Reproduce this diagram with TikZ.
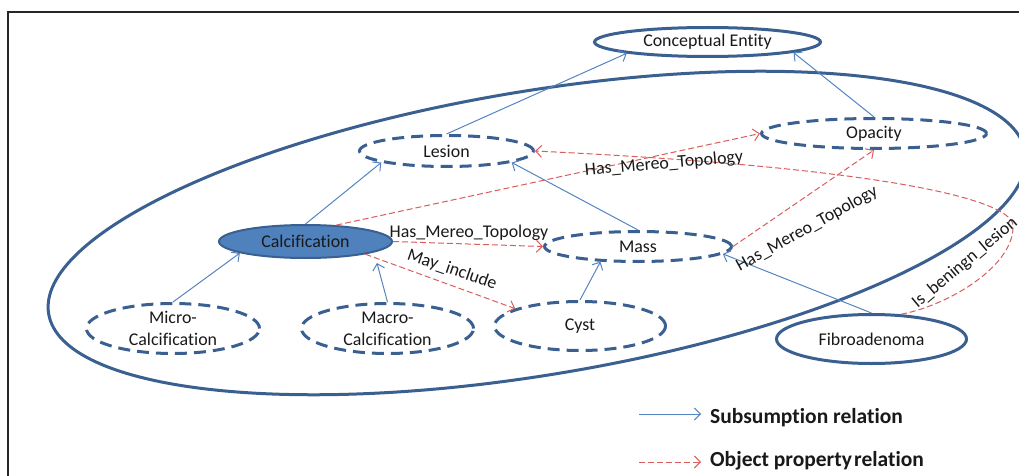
\documentclass[tikz,border=0pt]{standalone}
\usepackage{fontspec}
\setmainfont{Carlito}[Ligatures=NoCommon]
\usetikzlibrary{arrows.meta,shapes.geometric}
\definecolor{nodeblue}{RGB}{58,95,145}
\definecolor{fillblue}{RGB}{79,129,189}
\definecolor{subblue}{RGB}{84,132,192}
\definecolor{relred}{RGB}{218,92,92}
\definecolor{ink}{RGB}{25,25,25}
\begin{document}
\begin{tikzpicture}[x=1pt,y=-1pt,
  every node/.style={font=\fontsize{17.9}{22}\selectfont, text=ink},
  concept/.style={ellipse, draw=nodeblue, line width=3pt, inner sep=0pt, align=center},
  dashconcept/.style={concept, dash pattern=on 12pt off 7pt},
  subarrow/.style={draw=subblue, line width=1pt, -{Straight Barb[length=6pt,width=12pt]}},
  relarrow/.style={draw=relred, line width=1pt, dash pattern=on 6pt off 3pt, -{Straight Barb[length=6pt,width=12pt]}},
  rellabel/.style={inner sep=0pt},
  legendtext/.style={font=\fontsize{21.5}{24}\selectfont\bfseries, anchor=base west, inner sep=0pt}
]
\useasboundingbox (0,0) rectangle (1019,476);

% page frame
\draw[black!85, line width=2pt] (8,476) -- (8,12.5) -- (1019,12.5);

% enclosing domain ellipse
\draw[nodeblue, line width=3pt, rotate around={9.4:(537,233)}] (537,233) ellipse [x radius=495, y radius=142];

% concepts
\node[concept, minimum width=226pt, minimum height=29pt] (ce) at (707.5,42) {Conceptual Entity};
\node[dashconcept, minimum width=174pt, minimum height=31pt] (les) at (446.5,151) {Lesion};
\node[dashconcept, minimum width=225pt, minimum height=30pt] (opa) at (874,133.5) {Opacity};
\node[concept, fill=fillblue, line width=2pt, minimum width=173pt, minimum height=33pt] (calc) at (305.5,241.5) {Calcification};
\node[dashconcept, minimum width=187pt, minimum height=30pt] (mass) at (638,246.5) {Mass};
\node[dashconcept, minimum width=173pt, minimum height=50pt] (micro) at (173,328.5) {Micro-\\Calcification};
\node[dashconcept, minimum width=172pt, minimum height=50pt] (macro) at (387.5,328.5) {Macro-\\Calcification};
\node[dashconcept, minimum width=171pt, minimum height=49pt] (cyst) at (580,326) {Cyst};
\node[concept, minimum width=190pt, minimum height=49pt] (fib) at (871.5,339) {Fibroadenoma};

% subsumption relations
\draw[subarrow] (les.north) -- (ce.188);
\draw[subarrow] (opa.north) -- (ce.353);
\draw[subarrow] (calc.north) -- (les.190);
\draw[subarrow] (mass.north) -- (les.350);
\draw[subarrow] (micro.north) -- (calc.190);
\draw[subarrow, shorten >=11pt] (macro.north) -- (calc.351.5);
\draw[subarrow] (cyst.north) -- (mass.202);
\draw[subarrow] (fib.north) -- (mass.355);

% object property relations
\draw[relarrow] (calc.28) -- (opa.west);
\draw[relarrow] (calc.east) -- (mass.west);
\draw[relarrow] (calc.348) -- (cyst.165);
\draw[relarrow] (mass.east) -- (opa.south);
\draw[relarrow] (fib.40) .. controls (950,305) and (1015,265) .. (1013,225)
  .. controls (1010,200) and (890,168) .. (les.east);

% relation labels
\node[rellabel, rotate=5] (l1) at (664,164) {Has\_Mereo\_Topology};
\node[rellabel, anchor=base] (l2) at (469,237) {Has\_Mereo\_Topology};
\node[rellabel, rotate=-19] (l3) at (452,270) {May\_include};
\node[rellabel, rotate=29] (l4) at (807,229) {Has\_Mereo\_Topology};
\node[rellabel, rotate=40] (l5) at (965,263) {Is\_beningn\_lesion};

% legend
\coordinate (s1) at (639,414);
\coordinate (s2) at (701,414);
\coordinate (r1) at (639,462);
\coordinate (r2) at (701,462);
\draw[subarrow] (s1) -- (s2);
\draw[relarrow] (r1) -- (r2);
\node[legendtext] (t1) at (710,423) {Subsumption relation};
\node[legendtext] (t2) at (710,466) {Object property\hspace{0.1em}relation};
\end{tikzpicture}
\end{document}
